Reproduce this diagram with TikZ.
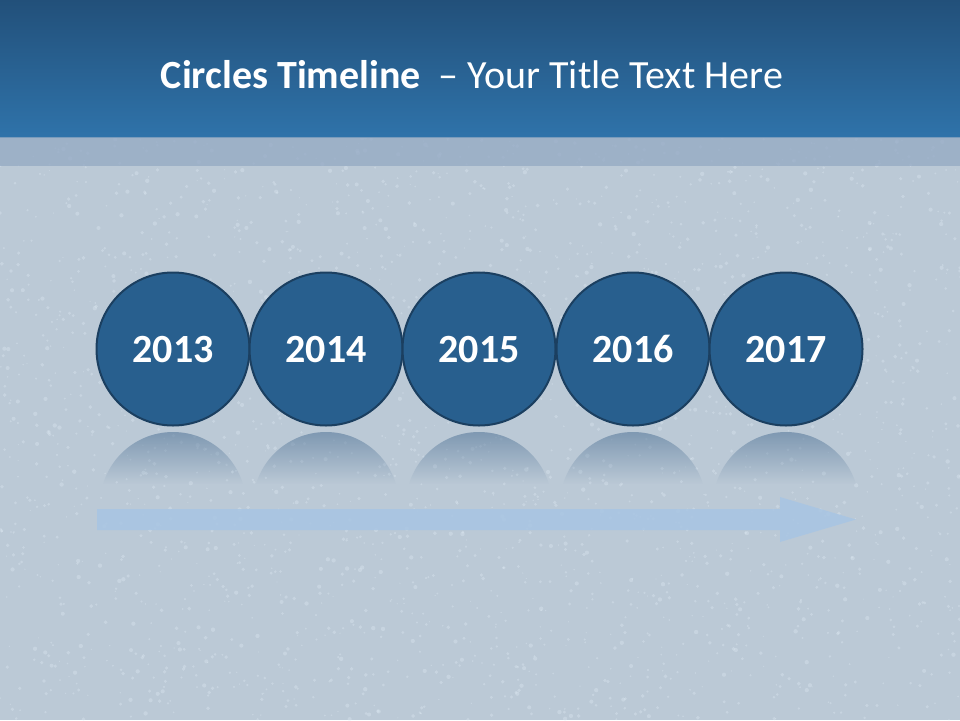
\documentclass[tikz,border=0pt]{standalone}
\usepackage{fontspec}
\setmainfont{Carlito}
\usetikzlibrary{fadings,shadings}
\definecolor{bgc}{HTML}{BBC9D6}
\definecolor{hdtop}{HTML}{22507A}
\definecolor{hdbot}{HTML}{2F73AA}
\definecolor{bandc}{HTML}{93A9C3}
\definecolor{circfill}{HTML}{285F8E}
\definecolor{circline}{HTML}{1B3F60}
\definecolor{reflc}{HTML}{5F7F9F}
\definecolor{arrowc}{HTML}{A8C5E3}
\definecolor{speck}{HTML}{E4F0F8}
\tikzfading[name=reflfade, top color=transparent!30, bottom color=transparent!100]
\tikzset{
  yearcircle/.style={circle, minimum size=153pt, inner sep=0pt, fill=circfill, draw=circline, line width=2pt, text=white, font=\fontsize{40}{46}\selectfont\bfseries, text height=27pt, text depth=0pt},
}
\begin{document}
\begin{tikzpicture}[x=1pt,y=-1pt]
\useasboundingbox (0,0) rectangle (960,720);
\fill[bgc] (0,0) rectangle (960,720);
% texture speckles
\pgfmathsetseed{7}
\foreach \i in {1,...,2500}{
  \pgfmathsetmacro{\px}{rnd*960}
  \pgfmathsetmacro{\py}{137+rnd*583}
  \pgfmathsetmacro{\pr}{0.6+rnd*1.6}
  \fill[speck, opacity=0.3] (\px,\py) circle (\pr);
}
\shade[top color=hdtop, bottom color=hdbot] (0,0) rectangle (960,137);
\fill[bandc, opacity=0.75] (0,137) rectangle (960,166);
\node[text=white, font=\fontsize{40}{46}\selectfont] (title) at (472,75) {\textbf{Circles Timeline} \ – Your Title Text Here};
% reflections
\foreach \x in {173,326,479,633,786}{
  \begin{scope}
    \clip (\x,505) circle (73);
    \fill[reflc, path fading=reflfade] (\x-80,428) rectangle (\x+80,484);
  \end{scope}
}
% arrow
\fill[arrowc, opacity=0.85] (97,509) -- (780,509) -- (780,497) -- (856,519.5) -- (780,542) -- (780,530) -- (97,530) -- cycle;
% circles
\node[yearcircle] (c1) at (173,349) {2013};
\node[yearcircle] (c2) at (326,349) {2014};
\node[yearcircle] (c3) at (479,349) {2015};
\node[yearcircle] (c4) at (633,349) {2016};
\node[yearcircle] (c5) at (786,349) {2017};
\end{tikzpicture}
\end{document}
